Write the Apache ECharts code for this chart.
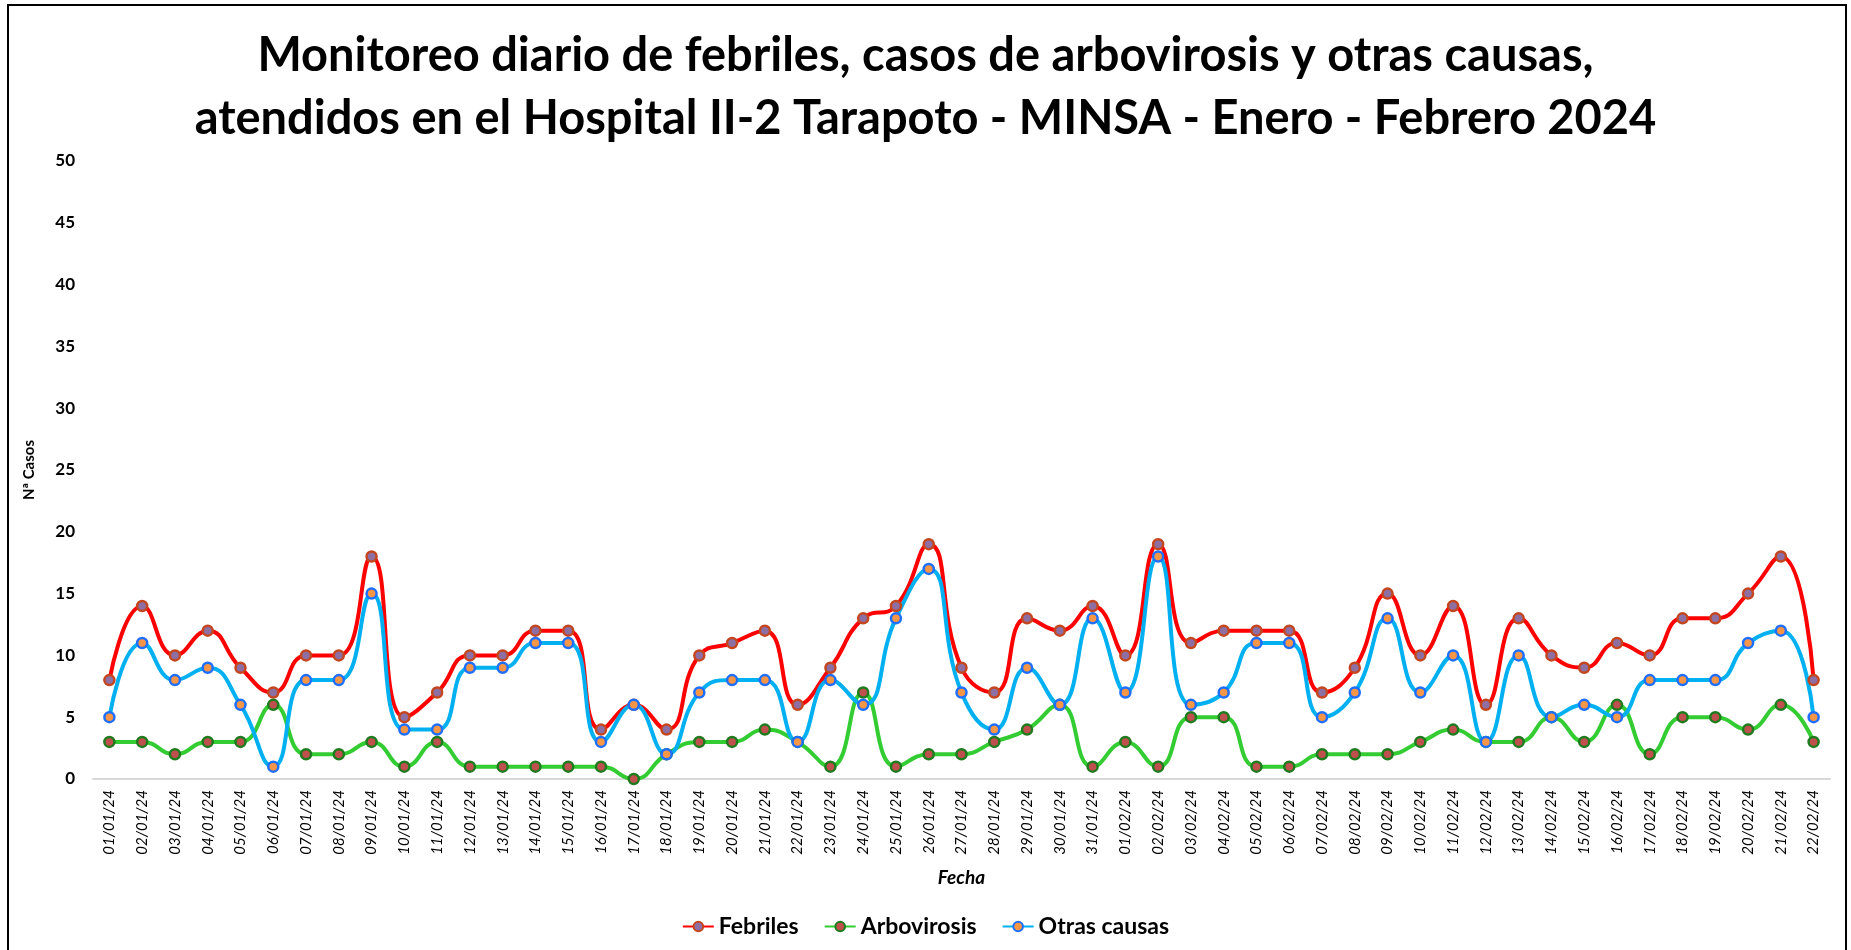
<!DOCTYPE html>
<html>
<head>
<meta charset="utf-8">
<script src="https://cdn.jsdelivr.net/npm/echarts@6/dist/echarts.min.js"></script>
<style>
  html, body { margin: 0; padding: 0; background: #fff; }
  #chart { width: 1851px; height: 950px; }
  #frame { position: absolute; left: 7px; top: 4px; width: 1836px; height: 970px; border: 2px solid #000; pointer-events: none; }
</style>
</head>
<body>
<div id="chart"></div>
<div id="frame"></div>
<script>
const fechas = [
  '01/01/24','02/01/24','03/01/24','04/01/24','05/01/24','06/01/24','07/01/24','08/01/24','09/01/24','10/01/24',
  '11/01/24','12/01/24','13/01/24','14/01/24','15/01/24','16/01/24','17/01/24','18/01/24','19/01/24','20/01/24',
  '21/01/24','22/01/24','23/01/24','24/01/24','25/01/24','26/01/24','27/01/24','28/01/24','29/01/24','30/01/24',
  '31/01/24','01/02/24','02/02/24','03/02/24','04/02/24','05/02/24','06/02/24','07/02/24','08/02/24','09/02/24',
  '10/02/24','11/02/24','12/02/24','13/02/24','14/02/24','15/02/24','16/02/24','17/02/24','18/02/24','19/02/24',
  '20/02/24','21/02/24','22/02/24'
];
const febriles = [
  8, 14, 10, 12, 9, 7, 10, 10, 18, 5,
  7, 10, 10, 12, 12, 4, 6, 4, 10, 11,
  12, 6, 9, 13, 14, 19, 9, 7, 13, 12,
  14, 10, 19, 11, 12, 12, 12, 7, 9, 15,
  10, 14, 6, 13, 10, 9, 11, 10, 13, 13,
  15, 18, 8
];
const arbovirosis = [
  3, 3, 2, 3, 3, 6, 2, 2, 3, 1,
  3, 1, 1, 1, 1, 1, 0, 2, 3, 3,
  4, 3, 1, 7, 1, 2, 2, 3, 4, 6,
  1, 3, 1, 5, 5, 1, 1, 2, 2, 2,
  3, 4, 3, 3, 5, 3, 6, 2, 5, 5,
  4, 6, 3
];
const otrasCausas = [
  5, 11, 8, 9, 6, 1, 8, 8, 15, 4,
  4, 9, 9, 11, 11, 3, 6, 2, 7, 8,
  8, 3, 8, 6, 13, 17, 7, 4, 9, 6,
  13, 7, 18, 6, 7, 11, 11, 5, 7, 13,
  7, 10, 3, 10, 5, 6, 5, 8, 8, 8,
  11, 12, 5
];

const font = 'Lato, "Open Sans", sans-serif';

// linea suavizada con marcador de dos colores, como en Excel
const makeSerie = (name, data, lineColor, markerFill, markerBorder) => ({
  name,
  type: 'line',
  data,
  smooth: 0.5,
  symbol: 'circle',
  symbolSize: 10,
  lineStyle: { color: lineColor, width: 4 },
  itemStyle: { color: markerFill, borderColor: markerBorder, borderWidth: 2.5 },
  emphasis: { disabled: true }
});

const chart = echarts.init(document.getElementById('chart'));
chart.setOption({
  animation: false,
  textStyle: { fontFamily: font },
  title: {
    text: 'Monitoreo diario de febriles, casos de arbovirosis y otras causas,\natendidos en el Hospital II-2 Tarapoto - MINSA - Enero - Febrero 2024',
    left: 'center',
    top: 19,
    textStyle: { fontFamily: font, fontSize: 47, fontWeight: 'bold', color: '#000', lineHeight: 63 }
  },
  legend: {
    top: 910,
    left: 'center',
    itemWidth: 31,
    itemHeight: 12,
    itemGap: 25,
    textStyle: { fontFamily: font, fontSize: 23, fontWeight: 'bold', color: '#000' },
    data: ['Febriles', 'Arbovirosis', 'Otras causas']
  },
  grid: { left: 93, right: 21, top: 161, bottom: 171 },
  xAxis: {
    type: 'category',
    data: fechas,
    boundaryGap: true,
    name: 'Fecha',
    nameLocation: 'middle',
    nameGap: 89,
    nameTextStyle: { fontFamily: font, fontSize: 19, fontStyle: 'italic', fontWeight: 'bold', color: '#000' },
    axisLine: { lineStyle: { color: '#D9D9D9', width: 2 } },
    axisTick: { show: false },
    axisLabel: {
      interval: 0,
      rotate: 90,
      margin: 11,
      fontFamily: font,
      fontSize: 15,
      fontStyle: 'italic',
      color: '#000'
    }
  },
  yAxis: {
    type: 'value',
    min: 0,
    max: 50,
    interval: 5,
    name: 'Nª Casos',
    nameLocation: 'middle',
    nameGap: 56,
    nameTextStyle: { fontFamily: font, fontSize: 15, fontWeight: 'bold', color: '#000' },
    axisLine: { show: false },
    axisTick: { show: false },
    splitLine: { show: false },
    axisLabel: { fontFamily: font, fontSize: 17, fontWeight: 'bold', color: '#000', margin: 18 }
  },
  series: [
    makeSerie('Febriles', febriles, '#FF0000', '#8E6FA3', '#C4461F'),
    makeSerie('Arbovirosis', arbovirosis, '#33CC33', '#C0504D', '#1E7B1E'),
    makeSerie('Otras causas', otrasCausas, '#00B0F0', '#F79646', '#1F6FFF')
  ]
});
</script>
</body>
</html>
